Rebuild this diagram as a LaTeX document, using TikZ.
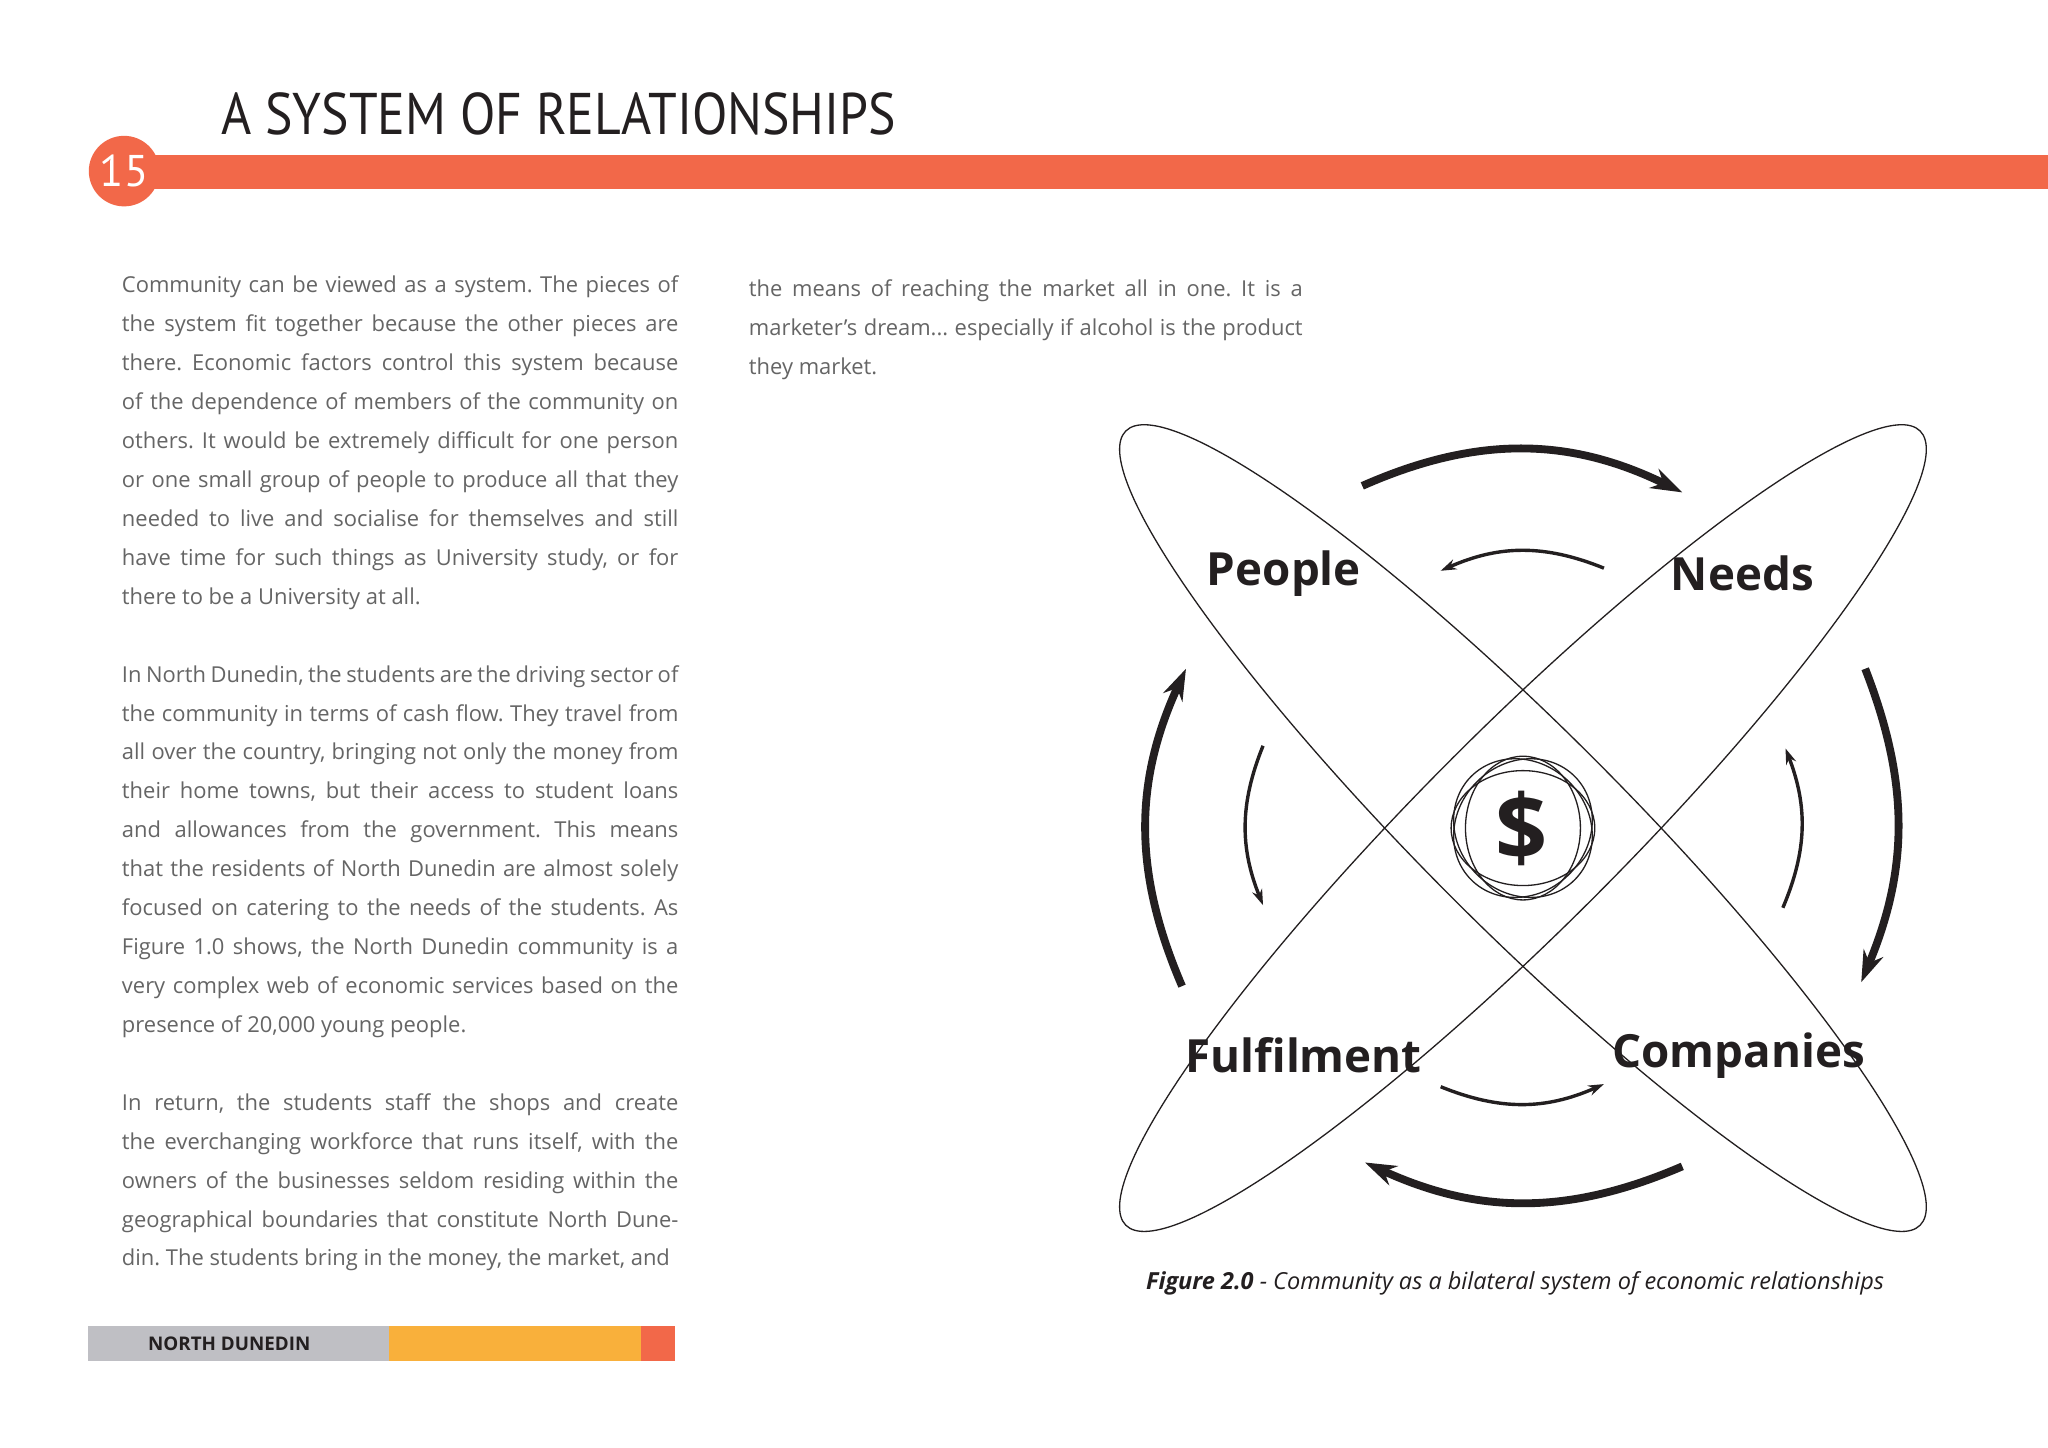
\documentclass[tikz,border=0pt]{standalone}
\usepackage{fontspec}
\setmainfont{Open Sans}
\newfontfamily\titlefont[FakeStretch=0.88]{PT Sans}
\newfontfamily\numfont{PT Sans}
\usetikzlibrary{arrows.meta}
\definecolor{orng}{HTML}{F26849}
\definecolor{yel}{HTML}{F9B03B}
\definecolor{gbar}{HTML}{BFBFC4}
\definecolor{txt}{HTML}{656565}
\definecolor{ink}{HTML}{231F20}
\frenchspacing
\begin{document}
\begin{tikzpicture}[x=0.5pt,y=0.5pt,
  bigarrow/.style={ink,line width=3pt,-{Stealth[length=12pt,width=8pt]}},
  smallarrow/.style={ink,line width=1.3pt,-{Stealth[length=6pt,width=4pt]}},
  petal/.style={ink,line width=0.5pt},
  lbl/.style={ink,font=\fontsize{17.5}{21}\selectfont\bfseries}]
\useasboundingbox (0,0) rectangle (1568,-1108);
\fill[white] (0,0) rectangle (1568,-1108);
% header
\fill[orng] (95,-119) rectangle (1568,-145);
\fill[orng] (95,-131) circle (27);
\node[white,font=\numfont\fontsize{17}{20}\selectfont] (num) at (95,-131) {15};
\node[anchor=base west,inner sep=0,ink,font=\titlefont\fontsize{22.5}{26}\selectfont] (title) at (169,-103) {A SYSTEM OF RELATIONSHIPS};
% left column
\node[anchor=north west,inner sep=0,txt] (col1) at (93,-211) {\parbox[t]{213pt}{\fontsize{8.4}{14.9}\selectfont
Community can be viewed as a system. The pieces of\linebreak
the system fit together because the other pieces are\linebreak
there. Economic factors control this system because\linebreak
of the dependence of members of the community on\linebreak
others. It would be extremely difficult for one person\linebreak
or one small group of people to produce all that they\linebreak
needed to live and socialise for themselves and still\linebreak
have time for such things as University study, or for\linebreak
there to be a University at all.\par\vspace{14.9pt}
In North Dunedin, the students are the driving sector of\linebreak
the community in terms of cash flow. They travel from\linebreak
all over the country, bringing not only the money from\linebreak
their home towns, but their access to student loans\linebreak
and allowances from the government. This means\linebreak
that the residents of North Dunedin are almost solely\linebreak
focused on catering to the needs of the students. As\linebreak
Figure 1.0 shows, the North Dunedin community is a\linebreak
very complex web of economic services based on the\linebreak
presence of 20,000 young people.\par\vspace{14.9pt}
In return, the students staff the shops and create\linebreak
the everchanging workforce that runs itself, with the\linebreak
owners of the businesses seldom residing within the\linebreak
geographical boundaries that constitute North Dune-\linebreak
din. The students bring in the money, the market, and}};
% right column
\node[anchor=north west,inner sep=0,txt] (col2) at (573,-214) {\parbox[t]{212pt}{\fontsize{8.4}{14.9}\selectfont
the means of reaching the market all in one. It is a\linebreak
marketer’s dream... especially if alcohol is the product\linebreak
they market.}};
% diagram
\coordinate (c) at (1166,-634);
\draw[petal,rotate around={-45:(c)}] (c) ellipse [x radius=430,y radius=76];
\draw[petal,rotate around={45:(c)}] (c) ellipse [x radius=430,y radius=76];
\foreach \r in {0,90}
  \draw[petal,rotate around={\r:(c)}] (c) ellipse [x radius=55,y radius=44];
\foreach \r in {45,135}
  \draw[petal,rotate around={\r:(c)}] (c) ellipse [x radius=56,y radius=50];
\node[ink,font=\fontsize{35}{38}\selectfont\bfseries] (dollar) at (1165,-634) {\$};
\node[lbl] (people) at (983,-439) {People};
\node[lbl] (needs) at (1334,-439) {Needs};
\node[lbl] (fulf) at (998,-808) {Fulfilment};
\node[lbl] (comp) at (1331,-808) {Companies};
% arrows
\coordinate (ot1) at (1043,-372); \coordinate (ot2) at (1288,-377);
\coordinate (or1) at (1428,-512); \coordinate (or2) at (1425,-752);
\coordinate (ob1) at (1288,-893); \coordinate (ob2) at (1045,-890);
\coordinate (ol1) at (905,-755);  \coordinate (ol2) at (908,-512);
\draw[bigarrow] (ot1) to[bend left=25] (ot2);
\draw[bigarrow] (or1) to[bend left=22] (or2);
\draw[bigarrow] (ob1) to[bend left=24] (ob2);
\draw[bigarrow] (ol1) to[bend left=24] (ol2);
\coordinate (it1) at (1228,-435); \coordinate (it2) at (1103,-437);
\coordinate (ir1) at (1365,-695); \coordinate (ir2) at (1367,-573);
\coordinate (ib1) at (1103,-832); \coordinate (ib2) at (1228,-830);
\coordinate (il1) at (967,-571);  \coordinate (il2) at (967,-693);
\draw[smallarrow] (it1) to[bend right=23] (it2);
\draw[smallarrow] (ir1) to[bend right=22] (ir2);
\draw[smallarrow] (ib1) to[bend right=23] (ib2);
\draw[smallarrow] (il1) to[bend right=22] (il2);
\node[ink,font=\fontsize{9}{11}\selectfont\itshape,anchor=base] (cap) at (1160,-987) {\textbf{Figure 2.0} - Community as a bilateral system of economic relationships};
% footer
\fill[gbar] (67,-1015) rectangle (298,-1042);
\fill[yel] (298,-1015) rectangle (491,-1042);
\fill[orng] (491,-1015) rectangle (517,-1042);
\node[ink,anchor=west,inner sep=0,font=\fontsize{7.2}{9}\selectfont\bfseries] (foot) at (113,-1028.5) {NORTH DUNEDIN};
\end{tikzpicture}
\end{document}
